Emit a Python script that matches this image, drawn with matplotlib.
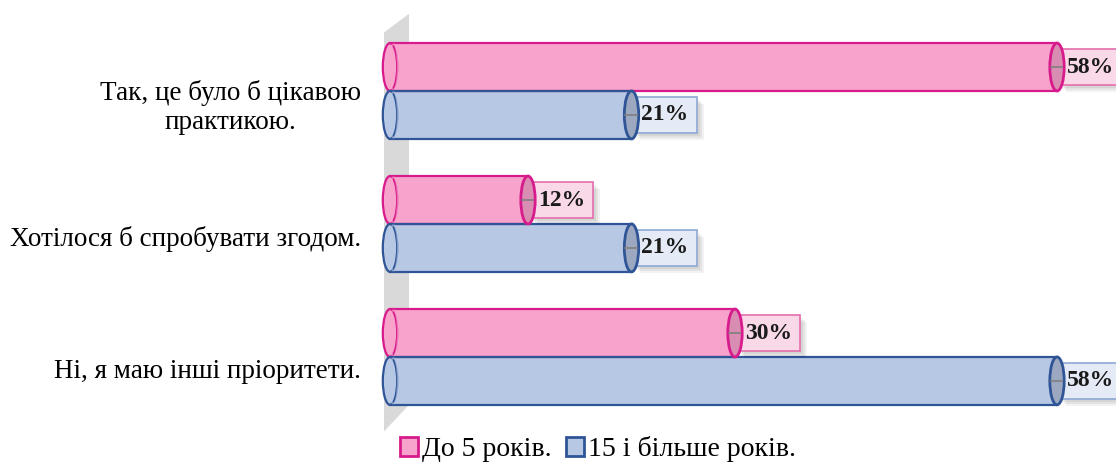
import matplotlib.pyplot as plt
from matplotlib.patches import Rectangle, Ellipse, Polygon, Patch

plt.rcParams['font.family'] = ['Liberation Serif', 'DejaVu Serif']

categories = ['Так, це було б цікавою\nпрактикою.',
              'Хотілося б спробувати згодом.',
              'Ні, я маю інші пріоритети.']
series_names = ['До 5 років.', '15 і більше років.']
young = [58, 12, 30]
senior = [21, 21, 58]

face = ['#f8a3cb', '#b7c8e5']
edge = ['#d81b8c', '#2f5597']
cap = ['#d98db2', '#9ca8bf']
box_fc = ['#f9d9e8', '#e4ebf6']
box_ec = ['#e56dac', '#8ea8d4']

bar_h = 0.36
cap_w = 1.25

fig = plt.figure(figsize=(11.16, 4.62), dpi=100)
ax = fig.add_axes([390 / 1116, 42 / 462, 726 / 1116, 420 / 462])
ax.set_xlim(0, 63.13)
ax.set_ylim(2.474, -0.684)
for s in ax.spines.values():
    s.set_visible(False)
ax.set_xticks([])
# labels sit slightly below the middle of each pair of bars
ax.set_yticks([i + 0.09 for i in range(len(categories))])
ax.set_yticklabels(categories, fontsize=19.5, multialignment='center', linespacing=1.2)
ax.tick_params(axis='y', length=0, pad=21)

# back wall
wall = Polygon([(-0.52, -0.44), (1.65, -0.58), (1.65, 2.36), (-0.52, 2.56)],
               closed=True, fc='#d9d9d9', ec='none', clip_on=False, zorder=0)
ax.add_patch(wall)

labels = []
for si, vals in enumerate([young, senior]):
    off = -bar_h / 2 if si == 0 else bar_h / 2
    for ci, v in enumerate(vals):
        yc = ci + off
        y0 = yc - bar_h / 2
        ax.add_patch(Rectangle((0, y0), v, bar_h, fc=face[si], ec='none', zorder=2, clip_on=False))
        ax.plot([0, v], [y0, y0], color=edge[si], lw=1.6, zorder=3, clip_on=False)
        ax.plot([0, v], [y0 + bar_h, y0 + bar_h], color=edge[si], lw=1.6, zorder=3, clip_on=False)
        ax.add_patch(Ellipse((0, yc), cap_w, bar_h, fc=face[si], ec=edge[si], lw=1.6,
                             zorder=2, clip_on=False))
        ax.add_patch(Ellipse((0.3, yc), cap_w * 0.6, bar_h * 0.95, fc='none', ec=face[si],
                             lw=1.2, alpha=0.6, zorder=3, clip_on=False))
        ax.add_patch(Ellipse((v, yc), cap_w, bar_h, fc=cap[si], ec=edge[si], lw=2,
                             zorder=4, clip_on=False))
        t = ax.text(v + 0.85, yc, f'{v}%', fontsize=17, fontweight='bold', va='center',
                    ha='left', color='#1a1a1a', zorder=7, clip_on=False)
        ax.plot([v - 0.55, v + 0.45], [yc, yc], color='#7f7f7f', lw=1.2, zorder=7)
        labels.append((t, si))

# label boxes with a soft shadow, sized from the rendered text
fig.canvas.draw()
r = fig.canvas.get_renderer()
inv = ax.transData.inverted()
for t, si in labels:
    ext = t.get_window_extent(r)
    bx0, bx1 = ext.x0 - 8, ext.x1 + 8
    cy = (ext.y0 + ext.y1) / 2
    by0, by1 = cy - 18, cy + 18
    for k, a in [(7, 0.05), (5, 0.06), (3, 0.06)]:
        (x0, y0), (x1, y1) = inv.transform([(bx0 + k, by0 - k), (bx1 + k, by1 - k)])
        ax.add_patch(Rectangle((x0, min(y0, y1)), x1 - x0, abs(y1 - y0), fc='#000000',
                               ec='none', alpha=a, zorder=3.1, clip_on=False))
    (x0, y0), (x1, y1) = inv.transform([(bx0, by0), (bx1, by1)])
    ax.add_patch(Rectangle((x0, min(y0, y1)), x1 - x0, abs(y1 - y0), fc=box_fc[si],
                           ec=box_ec[si], lw=1.2, zorder=3.5, clip_on=False))

handles = [Patch(fc=face[i], ec=edge[i], lw=2) for i in range(2)]
fig.legend(handles, series_names, loc='lower center', bbox_to_anchor=(0.536, -0.055), ncol=2,
           frameon=False, fontsize=20, handlelength=0.65, handleheight=0.65,
           handletextpad=0.15, columnspacing=0.5)

fig.savefig('out.png', dpi=100)
